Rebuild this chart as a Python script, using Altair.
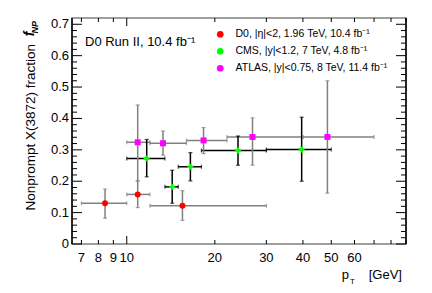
import altair as alt
import pandas as pd

# ---------------- data ----------------
SERIES = ["D0, |η|<2, 1.96 TeV, 10.4 fb⁻¹",
          "CMS, |y|<1.2, 7 TeV, 4.8 fb⁻¹",
          "ATLAS, |y|<0.75, 8 TeV, 11.4 fb⁻¹"]

d0_pt = [8.43, 10.9, 15.5]
d0_lo = [7, 10, 12]
d0_hi = [10, 12, 30]
d0_f = [0.130, 0.158, 0.122]
d0_flo = [0.082, 0.116, 0.075]
d0_fhi = [0.175, 0.201, 0.170]

cms_pt = [11.7, 14.3, 16.5, 24.0, 39.6]
cms_lo = [10, 13.5, 15, 18, 30]
cms_hi = [13.5, 15, 18, 30, 50]
cms_f = [0.272, 0.182, 0.246, 0.298, 0.301]
cms_flo = [0.214, 0.130, 0.201, 0.251, 0.200]
cms_fhi = [0.333, 0.235, 0.291, 0.344, 0.404]

atlas_pt = [10.9, 13.3, 18.3, 26.9, 48.5]
atlas_lo = [10, 12, 16, 22, 40]
atlas_hi = [12, 16, 22, 40, 70]
atlas_f = [0.324, 0.321, 0.330, 0.341, 0.341]
atlas_flo = [0.201, 0.283, 0.288, 0.251, 0.162]
atlas_fhi = [0.443, 0.360, 0.371, 0.402, 0.520]

X_LABELS = [7, 8, 9, 10, 20, 30, 40, 50, 60]
X_MAJOR = [10]
X_MINOR = [7, 8, 9, 20, 30, 40, 50, 60, 70, 80, 90]
Y_LABELS = [0, 0.1, 0.2, 0.3, 0.4, 0.5, 0.6, 0.7]
Y_LABEL_TEXT = ["0", "0.1", "0.2", "0.3", "0.4", "0.5", "0.6", "0.7"]
Y_MINOR = [0.02, 0.04, 0.06, 0.08, 0.12, 0.14, 0.16, 0.18, 0.22, 0.24, 0.26, 0.28,
           0.32, 0.34, 0.36, 0.38, 0.42, 0.44, 0.46, 0.48, 0.52, 0.54, 0.56, 0.58,
           0.62, 0.64, 0.66, 0.68]
X_DOMAIN = [6.5, 90]
Y_DOMAIN = [0, 0.72]

LABEL_TEXT = "D0 Run II, 10.4 fb⁻¹"
YTITLE = "Nonprompt X(3872) fraction"
XTITLE_UNIT = "[GeV]"

# ---------------- styling ----------------
W, H = 334, 226
FONT = "Liberation Sans"
MARK_COLORS = ["#ff0000", "#00ff00", "#ff00ff"]
ERR_COLORS = ["#808080", "#000000", "#808080"]
SHAPES = ["circle", "cross", "square"]

rows = []
for s, pts, los, his, fs, flos, fhis in [
    (SERIES[0], d0_pt, d0_lo, d0_hi, d0_f, d0_flo, d0_fhi),
    (SERIES[1], cms_pt, cms_lo, cms_hi, cms_f, cms_flo, cms_fhi),
    (SERIES[2], atlas_pt, atlas_lo, atlas_hi, atlas_f, atlas_flo, atlas_fhi),
]:
    for p, lo, hi, f, flo, fhi in zip(pts, los, his, fs, flos, fhis):
        rows.append(dict(series=s, pt=p, lo=lo, hi=hi, f=f, flo=flo, fhi=fhi))
df = pd.DataFrame(rows)

xs = alt.Scale(type="log", domain=X_DOMAIN, nice=False)
ys = alt.Scale(domain=Y_DOMAIN, nice=False)
err_color = alt.Color("series:N", scale=alt.Scale(domain=SERIES, range=ERR_COLORS), legend=None)

base = alt.Chart(df)

# error bars
xerr = base.mark_rule(strokeWidth=1.5).encode(
    x=alt.X("lo:Q", scale=xs, axis=None), x2="hi:Q",
    y=alt.Y("f:Q", scale=ys, axis=None), color=err_color)
yerr = base.mark_rule(strokeWidth=1.5).encode(
    x=alt.X("pt:Q", scale=xs, axis=None),
    y=alt.Y("flo:Q", scale=ys, axis=None), y2="fhi:Q", color=err_color)
caps = []
for fx, fy, orient in [("lo", "f", "vertical"), ("hi", "f", "vertical"),
                       ("pt", "flo", "horizontal"), ("pt", "fhi", "horizontal")]:
    caps.append(base.mark_tick(orient=orient, size=4, thickness=1.2).encode(
        x=alt.X(f"{fx}:Q", scale=xs, axis=None),
        y=alt.Y(f"{fy}:Q", scale=ys, axis=None), color=err_color))

points = base.mark_point(filled=True, opacity=1, size=36).encode(
    x=alt.X("pt:Q", scale=xs, axis=None),
    y=alt.Y("f:Q", scale=ys, axis=None),
    color=alt.Color("series:N", scale=alt.Scale(domain=SERIES, range=MARK_COLORS),
                    legend=alt.Legend(title=None, orient="none", legendX=143, legendY=11,
                                      labelFont=FONT, labelFontSize=10.5, labelColor="black",
                                      symbolSize=45, symbolStrokeWidth=0, rowPadding=6,
                                      labelOffset=10, labelLimit=220, padding=0)),
    shape=alt.Shape("series:N", scale=alt.Scale(domain=SERIES, range=SHAPES)),
)

# axis labels as text
ylab = alt.Chart(pd.DataFrame({"v": Y_LABELS, "t": Y_LABEL_TEXT})).mark_text(
    align="right", baseline="middle", font=FONT, fontSize=13, color="black").encode(
    y=alt.Y("v:Q", scale=ys, axis=None), x=alt.value(-3), text="t:N")
xlab = alt.Chart(pd.DataFrame({"v": X_LABELS})).mark_text(
    align="center", baseline="top", font=FONT, fontSize=13, color="black").encode(
    x=alt.X("v:Q", scale=xs, axis=None), y=alt.value(H + 8), text="v:N")

# ticks
yt = pd.DataFrame({"v": Y_LABELS})
ym = pd.DataFrame({"v": Y_MINOR})
xt = pd.DataFrame({"v": X_MAJOR})
xm = pd.DataFrame({"v": X_MINOR})
tick_layers = []
for d, L in [(yt, 10), (ym, 5)]:
    tick_layers.append(alt.Chart(d).mark_rule(color="black", strokeWidth=1).encode(
        y=alt.Y("v:Q", scale=ys, axis=None), x=alt.value(0), x2=alt.value(L)))
    tick_layers.append(alt.Chart(d).mark_rule(color="black", strokeWidth=1).encode(
        y=alt.Y("v:Q", scale=ys, axis=None), x=alt.value(W - L), x2=alt.value(W)))
for d, L in [(xt, 8), (xm, 4)]:
    tick_layers.append(alt.Chart(d).mark_rule(color="black", strokeWidth=1).encode(
        x=alt.X("v:Q", scale=xs, axis=None), y=alt.value(H), y2=alt.value(H - L)))
    tick_layers.append(alt.Chart(d).mark_rule(color="black", strokeWidth=1).encode(
        x=alt.X("v:Q", scale=xs, axis=None), y=alt.value(0), y2=alt.value(L)))

# left / right frame sides in black (top/bottom come from the grey view stroke)
span = pd.DataFrame({"a": [Y_DOMAIN[0]], "b": [Y_DOMAIN[1]]})
sides = [
    alt.Chart(span).mark_rule(color="black", strokeWidth=1.5).encode(
        y=alt.Y("a:Q", scale=ys, axis=None), y2="b:Q", x=alt.value(0)),
    alt.Chart(span).mark_rule(color="black", strokeWidth=1.5).encode(
        y=alt.Y("a:Q", scale=ys, axis=None), y2="b:Q", x=alt.value(W)),
]


def txt(s, x, y, size, align="left", baseline="alphabetic", angle=0, style="normal", weight="normal"):
    return alt.Chart(pd.DataFrame({"t": [s]})).mark_text(
        align=align, baseline=baseline, angle=angle, font=FONT, fontSize=size,
        fontStyle=style, fontWeight=weight, color="black").encode(
        text="t:N", x=alt.value(x), y=alt.value(y))


texts = [
    txt(LABEL_TEXT, 13, 24, 13, baseline="middle"),
    # y title (rotated)
    txt(YTITLE, -41, 26, 13.5, align="right", baseline="middle", angle=270),
    txt("f", -42, 13.5, 14, align="right", baseline="middle", angle=270, style="italic", weight="bold"),
    txt("NP", -37, 3, 9, align="right", baseline="middle", angle=270, style="italic", weight="bold"),
    # x title
    txt(XTITLE_UNIT, 330, 261, 13, align="right"),
    txt("p", 277, 261, 13, align="right"),
    txt("T", 278, 265.5, 8, align="left"),
]

chart = alt.layer(
    *tick_layers, xerr, yerr, *caps, *sides, points, ylab, xlab, *texts
).resolve_scale(color="independent").properties(
    width=W, height=H,
    autosize=alt.AutoSizeParams(type="none"),
    padding={"left": 64, "top": 10, "right": 18, "bottom": 41},
).configure_view(stroke="#808080", strokeWidth=1.5)

chart.save("out.html", embed_options={"renderer": "svg", "actions": False})
